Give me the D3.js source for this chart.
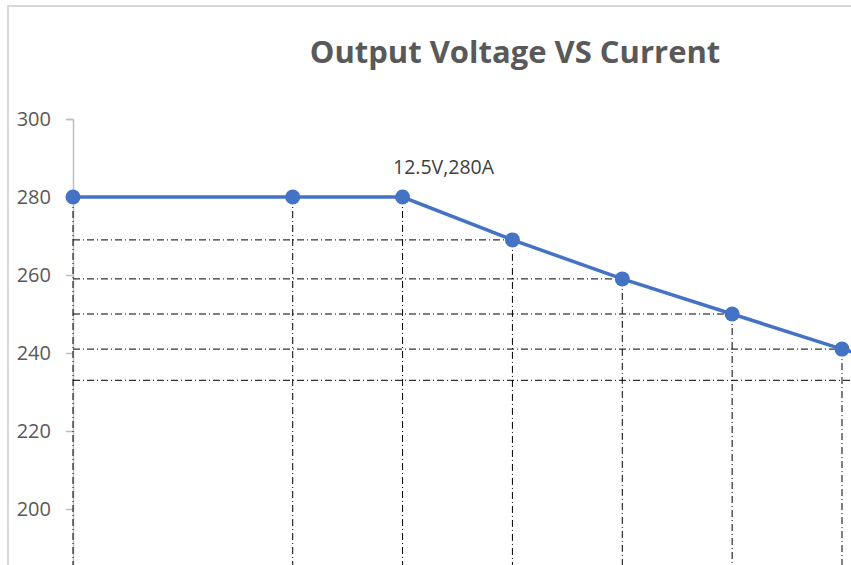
<!DOCTYPE html>
<html>
<head>
<meta charset="utf-8">
<script src="https://cdn.jsdelivr.net/npm/d3@7"></script>
<style>
  body { margin:0; background:#fff; }
  svg { display:block; font-family:"Open Sans", "Noto Sans", sans-serif; }
</style>
</head>
<body>
<div id="chart"></div>
<script>
// data
const voltage = [5, 10, 12.5, 15, 17.5, 20, 22.5, 25];
const current = [280, 280, 280, 269, 259, 250, 241, 233];
const yTicks = [200, 220, 240, 260, 280, 300];
const title = "Output Voltage VS Current";
const noteLabel = "12.5V,280A";
const noteIndex = 2;

const W = 851, H = 565;
const svg = d3.select('#chart').append('svg')
  .attr('width', W).attr('height', H);

// chart area border (right/bottom run off the picture)
svg.append('rect')
  .attr('x', 8).attr('y', 6)
  .attr('width', 900).attr('height', 700)
  .attr('fill', '#fff')
  .attr('stroke', '#d9d9d9').attr('stroke-width', 2);

const x = d3.scaleLinear().domain([5, 22.5]).range([73, 842]);
const y = d3.scaleLinear().domain([180, 300]).range([587, 119]);

const pts = voltage.map((v, i) => ({v: v, c: current[i]}));

// y axis
const yAxis = svg.append('g')
  .attr('transform', `translate(${x(5)},0)`)
  .call(d3.axisLeft(y).tickValues(yTicks).tickSize(7).tickPadding(15).tickFormat(d3.format('d')));
yAxis.select('.domain').attr('stroke', '#bfbfbf').attr('stroke-width', 1.5);
yAxis.selectAll('.tick line').attr('stroke', '#bfbfbf').attr('stroke-width', 1.5);
yAxis.selectAll('.tick text')
  .attr('fill', '#595959')
  .style('font-size', '20px')
  .style('font-family', '"Open Sans", sans-serif');

// drop lines (dash-dot)
const dash = '7,3,1,3';
const guides = svg.append('g');
guides.selectAll('line.h').data(pts.filter(d => d.c < 280)).enter()
  .append('line').attr('class', 'h')
  .attr('x1', x(5)).attr('x2', d => x(d.v))
  .attr('y1', d => y(d.c)).attr('y2', d => y(d.c))
  .attr('stroke', '#000').attr('stroke-width', 1)
  .attr('stroke-dasharray', dash);
guides.selectAll('line.v').data(pts).enter()
  .append('line').attr('class', 'v')
  .attr('x1', d => x(d.v)).attr('x2', d => x(d.v))
  .attr('y1', d => y(d.c)).attr('y2', H + 20)
  .attr('stroke', '#000').attr('stroke-width', 1)
  .attr('stroke-dasharray', dash);

// series
const line = d3.line().x(d => x(d.v)).y(d => y(d.c));
svg.append('path').datum(pts)
  .attr('d', line)
  .attr('fill', 'none')
  .attr('stroke', '#4472c4').attr('stroke-width', 3.5);
svg.selectAll('circle').data(pts).enter().append('circle')
  .attr('cx', d => x(d.v)).attr('cy', d => y(d.c))
  .attr('r', 7.5)
  .attr('fill', '#4472c4');

// data label
svg.append('text')
  .attr('x', x(voltage[noteIndex]) + 41).attr('y', y(current[noteIndex]) - 23)
  .attr('text-anchor', 'middle')
  .attr('fill', '#404040')
  .style('font-size', '19.5px')
  .text(noteLabel);

// title
svg.append('text')
  .attr('x', 515).attr('y', 63)
  .attr('text-anchor', 'middle')
  .attr('fill', '#595959')
  .style('font-size', '31px').style('font-weight', 'bold')
  .text(title);
</script>
</body>
</html>
